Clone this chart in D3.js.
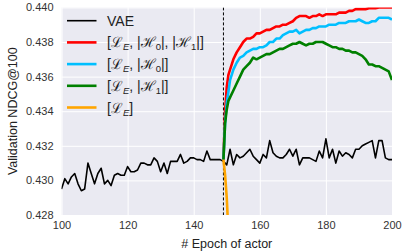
<!DOCTYPE html>
<html><head><meta charset="utf-8">
<script src="https://cdn.jsdelivr.net/npm/d3@7"></script>
<style>body{margin:0;background:#fff}svg{display:block}text{font-family:"Liberation Sans",Arial,sans-serif}</style>
</head><body><svg id="c" width="402" height="251"></svg>
<script>
const vaeEpochs = d3.range(100, 201);
const vaeValues = [
0.4295,0.4301,0.4298,0.4302,0.4304,0.4298,0.4294,0.4295,0.4310,0.4304,
0.4298,0.4304,0.4307,0.4298,0.4300,0.4297,0.4303,0.4304,0.4303,0.4303,
0.4308,0.4305,0.4305,0.4306,0.4310,0.4310,0.4309,0.4309,0.4313,0.4311,
0.4305,0.4310,0.4304,0.4311,0.4311,0.4311,0.4315,0.4310,0.4311,0.4313,
0.4313,0.4312,0.4312,0.4311,0.4317,0.4312,0.4312,0.4312,0.4312,0.4311,
0.4309,0.4318,0.4309,0.4315,0.4313,0.4314,0.4316,0.4318,0.4314,0.4312,
0.4310,0.4315,0.4313,0.4323,0.4316,0.4314,0.4313,0.4313,0.4315,0.4318,
0.4314,0.4318,0.4309,0.4313,0.4313,0.4313,0.4312,0.4311,0.4317,0.4313,
0.4324,0.4313,0.4318,0.4310,0.4317,0.4314,0.4316,0.4315,0.4313,0.4318,
0.4318,0.4320,0.4321,0.4322,0.4323,0.4313,0.4323,0.4323,0.4313,0.4312,
0.4312];

const actorEpochs = [149,149.5,150,150.5,151].concat(d3.range(152, 201));
const redValues = [0.4312,0.4340,0.4354,0.4361,0.4364,
0.4370,0.4374,0.4377,0.4380,0.4382,0.4382,0.4383,0.4385,0.4385,0.4386,
0.4387,0.4387,0.4388,0.4389,0.4389,0.4390,0.4390,0.4391,0.4392,0.4394,
0.4395,0.4395,0.4395,0.4394,0.4395,0.4395,0.4396,0.4395,0.4396,0.4396,
0.4396,0.4396,0.4397,0.4397,0.4397,0.4398,0.4398,0.4399,0.4399,0.4399,
0.4399,0.43995,0.43995,0.43995,0.4400,0.4400,0.4400,0.4400,0.4400];
const blueValues = [0.4312,0.4333,0.4345,0.4351,0.4358,
0.4364,0.4368,0.4371,0.4372,0.4374,0.4375,0.4376,0.4376,0.4377,0.4377,
0.4378,0.4380,0.4380,0.4382,0.4382,0.4384,0.4385,0.4386,0.4386,0.4387,
0.4385,0.4386,0.4387,0.4387,0.4388,0.4388,0.4389,0.4389,0.4389,0.4390,
0.4390,0.4390,0.4391,0.4391,0.4391,0.4392,0.4392,0.4392,0.4393,0.4392,
0.4391,0.4391,0.4392,0.4392,0.4394,0.4394,0.4394,0.4394,0.4393];
const greenValues = [0.4312,0.4333,0.4341,0.4346,0.4348,
0.4352,0.4356,0.4360,0.4364,0.4366,0.4368,0.4371,0.4370,0.4371,0.4372,
0.4373,0.4373,0.4374,0.4375,0.4376,0.4376,0.4377,0.4378,0.4379,0.4379,
0.4380,0.4379,0.4378,0.4379,0.4379,0.4380,0.4380,0.4380,0.4379,0.4378,
0.4377,0.4377,0.4376,0.4376,0.4375,0.4375,0.4374,0.4374,0.4373,0.4372,
0.4370,0.4367,0.4367,0.4366,0.4366,0.4365,0.4364,0.4363,0.4358];
const orangeEpochs = [149,149.5,150,150.5,151];
const orangeValues = [0.4312,0.4303,0.4290,0.4270,0.4250];

const xTicks = [100,120,140,160,180,200];
const yTicks = [0.428,0.430,0.432,0.434,0.436,0.438,0.440];
const startEpoch = 149;

const W=402,H=251, m={l:61.5,r:10,t:7.4,b:36};
const svg=d3.select("#c");
const x=d3.scaleLinear().domain([100,200]).range([m.l,W-m.r]);
const y=d3.scaleLinear().domain([0.428,0.440]).range([H-m.b,m.t]);

svg.append("defs").append("clipPath").attr("id","clip").append("rect")
 .attr("x",m.l).attr("y",m.t).attr("width",W-m.r-m.l).attr("height",H-m.b-m.t);
svg.append("rect").attr("x",m.l).attr("y",m.t).attr("width",W-m.r-m.l).attr("height",H-m.b-m.t).attr("fill","#EAEAF2");

const gx=svg.append("g").attr("transform",`translate(0,${H-m.b})`)
 .call(d3.axisBottom(x).tickValues(xTicks).tickSize(-(H-m.b-m.t)).tickPadding(6).tickFormat(d3.format("d")));
const gy=svg.append("g").attr("transform",`translate(${m.l},0)`)
 .call(d3.axisLeft(y).tickValues(yTicks).tickSize(-(W-m.r-m.l)).tickPadding(8).tickFormat(d3.format(".3f")));
[gx,gy].forEach(g=>{
 g.select(".domain").remove();
 g.selectAll(".tick line").attr("stroke","#fff").attr("stroke-width",1);
 g.selectAll(".tick text").attr("fill","#333").style("font-size","11px");
});

const plot=svg.append("g").attr("clip-path","url(#clip)");
plot.append("line").attr("x1",x(startEpoch)).attr("x2",x(startEpoch)).attr("y1",m.t).attr("y2",H-m.b)
 .attr("stroke","#000").attr("stroke-width",1).attr("stroke-dasharray","3,2");

const line=d3.line().x(d=>x(d[0])).y(d=>y(d[1]));
const series=[
 {ex:vaeEpochs,v:vaeValues,c:"#000000",w:1.6},
 {ex:actorEpochs,v:redValues,c:"#FF0000",w:2.6},
 {ex:actorEpochs,v:blueValues,c:"#00BFFF",w:2.6},
 {ex:actorEpochs,v:greenValues,c:"#008000",w:2.6},
 {ex:orangeEpochs,v:orangeValues,c:"#FFA500",w:2.6}
];
series.forEach(s=>{
 plot.append("path").datum(s.ex.map((e,i)=>[e,s.v[i]])).attr("d",line)
  .attr("fill","none").attr("stroke",s.c).attr("stroke-width",s.w).attr("stroke-linejoin","round");
});

// legend
const legendItems=[
 {c:"#000000",w:1.6,parts:[["VAE"]]},
 {c:"#FF0000",w:2.6,parts:[["[ℒ"],["E","sub","italic"],[", |ℋ"],["0","sub"],["|, |ℋ"],["1","sub"],["|]"]]},
 {c:"#00BFFF",w:2.6,parts:[["[ℒ"],["E","sub","italic"],[", |ℋ"],["0","sub"],["|]"]]},
 {c:"#008000",w:2.6,parts:[["[ℒ"],["E","sub","italic"],[", |ℋ"],["1","sub"],["|]"]]},
 {c:"#FFA500",w:2.6,parts:[["[ℒ"],["E","sub","italic"],["]"]]}
];
const lg=svg.append("g");
legendItems.forEach((it,i)=>{
 const yy=20.7+i*21.7;
 lg.append("line").attr("x1",67).attr("x2",96.5).attr("y1",yy).attr("y2",yy).attr("stroke",it.c).attr("stroke-width",it.w);
 const t=lg.append("text").attr("x",107).attr("y",yy+5).attr("fill","#222").style("font-size","14px");
 it.parts.forEach((p,j)=>{
  const ts=t.append("tspan").text(p[0]);
  if(p[1]==="sub"){ts.attr("dy",3).style("font-size","9.5px"); if(p[2]) ts.style("font-style","italic");}
  else if(j>0){ts.attr("dy",-3);}
 });
});

svg.append("text").attr("x",(m.l+W-m.r)/2).attr("y",248).attr("text-anchor","middle")
 .attr("fill","#222").style("font-size","12.5px").text("# Epoch of actor");
svg.append("text").attr("transform",`translate(17,${(m.t+H-m.b)/2}) rotate(-90)`).attr("text-anchor","middle")
 .attr("fill","#222").style("font-size","12.5px").text("Validation NDCG@100");
</script></body></html>
